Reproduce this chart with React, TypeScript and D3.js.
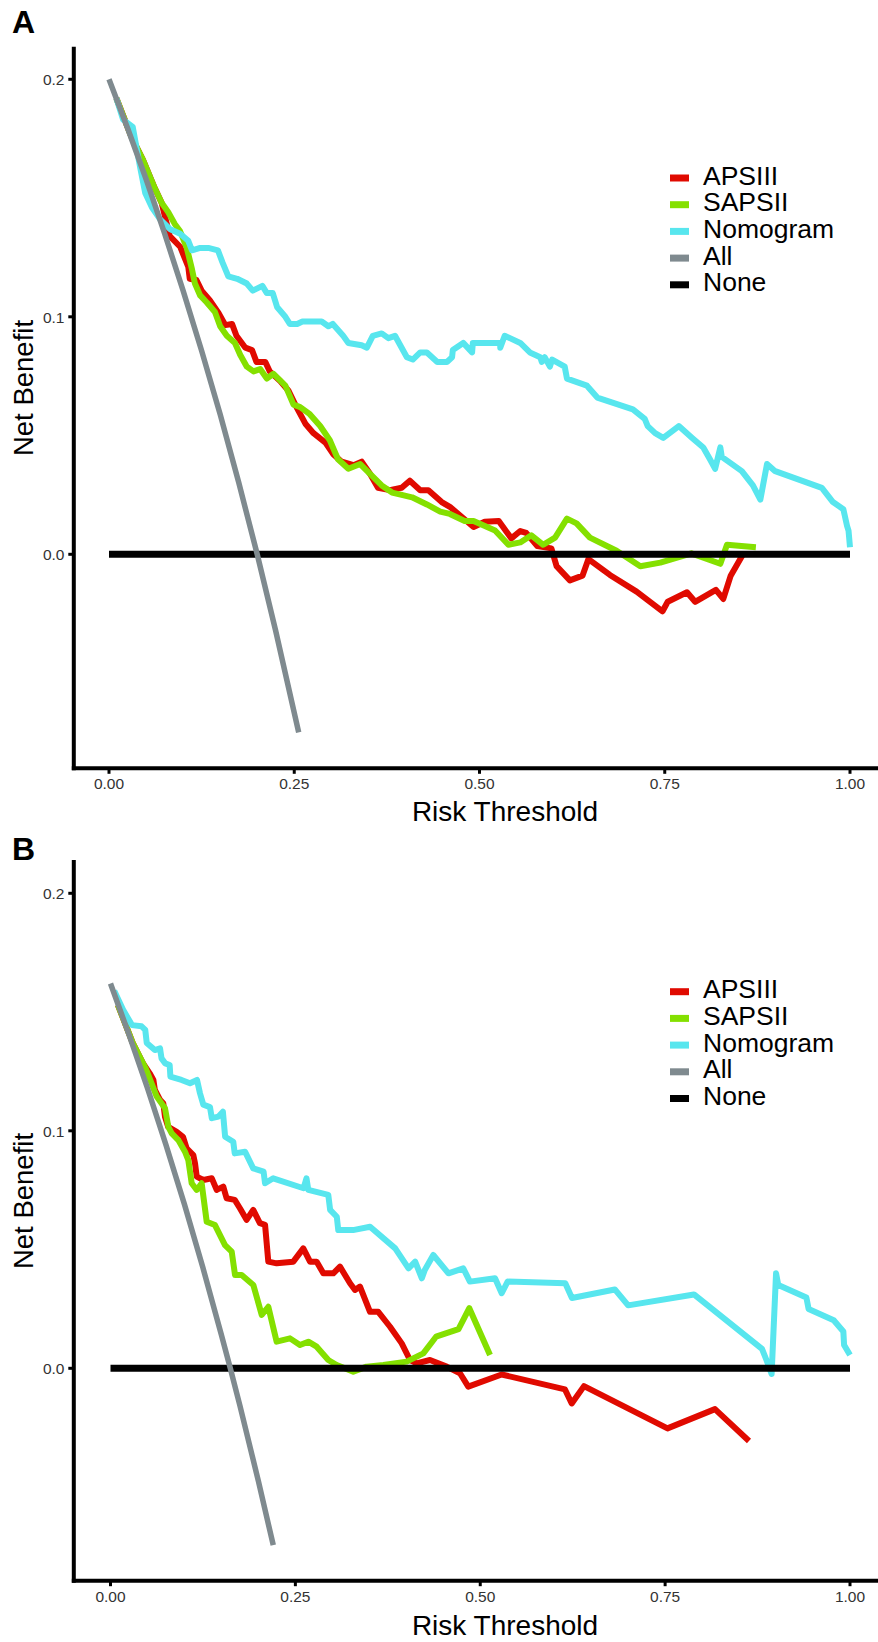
import React from 'react';
import * as d3 from 'd3';

const W = 878;
const H = 1642;
const FONT = '"Liberation Sans", Arial, Helvetica, sans-serif';

const xTicks = [0, 0.25, 0.5, 0.75, 1];
const xTickLabels = ['0.00', '0.25', '0.50', '0.75', '1.00'];
const yTicks = [0, 0.1, 0.2];
const yTickLabels = ['0.0', '0.1', '0.2'];
const seriesNames = ['APSIII', 'SAPSII', 'Nomogram', 'All', 'None'];
const seriesColors = ['#E00A00', '#84E000', '#58E6EE', '#7F8A8F', '#000000'];
const xTitle = 'Risk Threshold';
const yTitle = 'Net Benefit';

// ---------- Panel A ----------
const apsiiiA: [number, number][] = [
  [0.010, 0.192], [0.030, 0.176], [0.046, 0.166], [0.062, 0.154], [0.071, 0.148], [0.082, 0.134],
  [0.096, 0.1295], [0.107, 0.121], [0.109, 0.116], [0.118, 0.1155], [0.125, 0.111], [0.136, 0.107],
  [0.148, 0.1015], [0.157, 0.0965], [0.166, 0.097], [0.172, 0.092], [0.184, 0.087], [0.193, 0.086],
  [0.199, 0.081], [0.211, 0.081], [0.217, 0.077], [0.231, 0.073], [0.242, 0.069], [0.253, 0.062],
  [0.265, 0.055], [0.276, 0.051], [0.292, 0.047], [0.303, 0.042], [0.314, 0.039], [0.330, 0.0375],
  [0.341, 0.039], [0.352, 0.034], [0.363, 0.028], [0.379, 0.027], [0.395, 0.028], [0.406, 0.031],
  [0.420, 0.027], [0.431, 0.027], [0.449, 0.022], [0.460, 0.020], [0.492, 0.0115], [0.507, 0.0137],
  [0.526, 0.014], [0.543, 0.0067], [0.555, 0.0098], [0.563, 0.009], [0.578, 0.0035], [0.597, 0.0025],
  [0.604, -0.005], [0.622, -0.011], [0.639, -0.009], [0.647, -0.002], [0.676, -0.0087], [0.712, -0.0157],
  [0.747, -0.024], [0.754, -0.020], [0.780, -0.016], [0.791, -0.020], [0.819, -0.015], [0.829, -0.0188],
  [0.839, -0.009], [0.856, 0.0002],
];
const sapsiiA: [number, number][] = [
  [0.010, 0.192], [0.030, 0.176], [0.046, 0.166], [0.062, 0.154], [0.071, 0.148], [0.080, 0.144],
  [0.089, 0.139], [0.096, 0.136], [0.105, 0.129], [0.112, 0.120], [0.116, 0.114], [0.123, 0.109],
  [0.132, 0.106], [0.143, 0.102], [0.150, 0.096], [0.159, 0.092], [0.170, 0.089], [0.177, 0.084],
  [0.186, 0.079], [0.195, 0.077], [0.204, 0.078], [0.213, 0.074], [0.222, 0.076], [0.238, 0.071],
  [0.249, 0.063], [0.258, 0.062], [0.271, 0.059], [0.285, 0.054], [0.298, 0.048], [0.309, 0.040],
  [0.323, 0.036], [0.339, 0.038], [0.355, 0.033], [0.368, 0.029], [0.382, 0.026], [0.395, 0.025],
  [0.409, 0.024], [0.429, 0.021], [0.447, 0.018], [0.460, 0.017], [0.480, 0.014], [0.492, 0.014],
  [0.521, 0.010], [0.539, 0.004], [0.555, 0.005], [0.570, 0.008], [0.586, 0.004], [0.602, 0.007],
  [0.618, 0.015], [0.631, 0.013], [0.649, 0.007], [0.685, 0.0015], [0.717, -0.005], [0.744, -0.0035],
  [0.786, 0.0004], [0.825, -0.004], [0.834, 0.004], [0.873, 0.003],
];
const nomogramA: [number, number][] = [
  [0.010, 0.192], [0.019, 0.183], [0.032, 0.180], [0.042, 0.163], [0.049, 0.152], [0.058, 0.146],
  [0.069, 0.141], [0.082, 0.137], [0.096, 0.135], [0.107, 0.132], [0.112, 0.128], [0.123, 0.129],
  [0.134, 0.129], [0.147, 0.128], [0.153, 0.123], [0.161, 0.117], [0.173, 0.116], [0.186, 0.114],
  [0.194, 0.111], [0.207, 0.113], [0.213, 0.110], [0.221, 0.110], [0.227, 0.104], [0.238, 0.100],
  [0.244, 0.097], [0.254, 0.097], [0.261, 0.098], [0.275, 0.098], [0.287, 0.098], [0.296, 0.096],
  [0.302, 0.097], [0.316, 0.092], [0.323, 0.089], [0.341, 0.088], [0.348, 0.087], [0.356, 0.092],
  [0.368, 0.093], [0.377, 0.091], [0.386, 0.092], [0.402, 0.083], [0.410, 0.082], [0.420, 0.085],
  [0.429, 0.085], [0.443, 0.081], [0.456, 0.081], [0.463, 0.083], [0.464, 0.086], [0.478, 0.089],
  [0.490, 0.085], [0.491, 0.089], [0.528, 0.089], [0.528, 0.087], [0.534, 0.092], [0.555, 0.089],
  [0.568, 0.085], [0.582, 0.083], [0.584, 0.081], [0.588, 0.083], [0.595, 0.079], [0.598, 0.082],
  [0.615, 0.079], [0.618, 0.074], [0.645, 0.071], [0.659, 0.066], [0.707, 0.061], [0.723, 0.057],
  [0.727, 0.054], [0.737, 0.051], [0.748, 0.049], [0.769, 0.054], [0.787, 0.049], [0.802, 0.045],
  [0.811, 0.040], [0.818, 0.036], [0.825, 0.045], [0.827, 0.041], [0.854, 0.035], [0.869, 0.029],
  [0.879, 0.023], [0.888, 0.038], [0.899, 0.035], [0.962, 0.028], [0.977, 0.022], [0.991, 0.019],
  [0.996, 0.012], [0.998, 0.010], [1.000, 0.003],
];
const allA: [number, number][] = [
  [0, 0.2], [0.025, 0.1795], [0.05, 0.158], [0.075, 0.1351], [0.1, 0.111], [0.125, 0.0857],
  [0.15, 0.059], [0.175, 0.0303], [0.2, 0.0], [0.225, -0.0323], [0.256, -0.075],
];
const noneA: [number, number][] = [[0, 0], [1, 0]];

// ---------- Panel B ----------
const apsiiiB: [number, number][] = [
  [0.010, 0.153], [0.030, 0.137], [0.044, 0.1284], [0.053, 0.1242], [0.058, 0.1214], [0.060, 0.1172],
  [0.067, 0.113], [0.0714, 0.1116], [0.0737, 0.1059], [0.078, 0.1017], [0.0895, 0.0996], [0.098, 0.0975],
  [0.103, 0.0926], [0.112, 0.0898], [0.1143, 0.0863], [0.1166, 0.0807], [0.1255, 0.0793], [0.137, 0.080],
  [0.1436, 0.0751], [0.1525, 0.0765], [0.157, 0.0716], [0.168, 0.0709], [0.175, 0.0674], [0.184, 0.0625],
  [0.193, 0.0667], [0.202, 0.0611], [0.209, 0.0604], [0.2134, 0.0449], [0.2247, 0.0442], [0.2472, 0.0449],
  [0.2607, 0.0505], [0.2698, 0.0449], [0.2788, 0.0449], [0.2878, 0.040], [0.3013, 0.040], [0.3103, 0.0428],
  [0.3239, 0.0358], [0.3306, 0.033], [0.3374, 0.0344], [0.3509, 0.0238], [0.3621, 0.0238], [0.378, 0.0175],
  [0.3938, 0.0105], [0.405, 0.0035], [0.414, 0.0021], [0.432, 0.0035], [0.4546, 0.0007], [0.4726, -0.0021],
  [0.4838, -0.0077], [0.529, -0.0026], [0.6146, -0.0089], [0.6237, -0.0148], [0.6403, -0.0075],
  [0.7532, -0.0253], [0.8174, -0.0172], [0.8634, -0.0306],
];
const sapsiiB: [number, number][] = [
  [0.010, 0.153], [0.030, 0.137], [0.048, 0.126], [0.0625, 0.1144], [0.0737, 0.1095], [0.0782, 0.1017],
  [0.0828, 0.0989], [0.0917, 0.0961], [0.1007, 0.0912], [0.1052, 0.0877], [0.1098, 0.0779], [0.1166, 0.0751],
  [0.1233, 0.0779], [0.1301, 0.0617], [0.1413, 0.0603], [0.1548, 0.0519], [0.1639, 0.0491], [0.1684, 0.0393],
  [0.1774, 0.0393], [0.1931, 0.0351], [0.2045, 0.0225], [0.2134, 0.0259], [0.2247, 0.0112], [0.2427, 0.0126],
  [0.2562, 0.0098], [0.2675, 0.0112], [0.2788, 0.0091], [0.2945, 0.0035], [0.3059, 0.0014], [0.3283, -0.0014],
  [0.3464, 0.0007], [0.3689, 0.0014], [0.4005, 0.0028], [0.423, 0.0063], [0.4402, 0.0133], [0.4706, 0.0165],
  [0.4852, 0.0253], [0.5132, 0.0056],
];
const nomogramB: [number, number][] = [
  [0.005, 0.159], [0.017, 0.151], [0.029, 0.1445], [0.042, 0.144], [0.047, 0.1425], [0.049, 0.137],
  [0.060, 0.134], [0.067, 0.1347], [0.069, 0.1305], [0.074, 0.1284], [0.080, 0.1277], [0.081, 0.1228],
  [0.096, 0.1214], [0.1075, 0.120], [0.117, 0.1214], [0.121, 0.1158], [0.1255, 0.111], [0.1345, 0.110],
  [0.137, 0.1053], [0.146, 0.106], [0.152, 0.108], [0.155, 0.0975], [0.166, 0.0954], [0.168, 0.0905],
  [0.182, 0.0912], [0.193, 0.0842], [0.207, 0.0828], [0.209, 0.0779], [0.220, 0.080], [0.261, 0.0758],
  [0.265, 0.080], [0.2675, 0.0751], [0.2945, 0.073], [0.297, 0.0667], [0.306, 0.0638], [0.308, 0.0582],
  [0.328, 0.0582], [0.351, 0.0596], [0.385, 0.0505], [0.403, 0.0421], [0.412, 0.0449], [0.421, 0.0379],
  [0.425, 0.0414], [0.4365, 0.0477], [0.457, 0.040], [0.477, 0.0421], [0.486, 0.0365], [0.520, 0.0379],
  [0.529, 0.0316], [0.537, 0.0365], [0.615, 0.0358], [0.624, 0.0296], [0.682, 0.0332], [0.700, 0.0265],
  [0.789, 0.0311], [0.881, 0.0082], [0.887, 0.0035], [0.894, -0.0024], [0.900, 0.040], [0.903, 0.0351],
  [0.941, 0.0298], [0.944, 0.025], [0.978, 0.0202], [0.991, 0.0155], [0.992, 0.0098], [1.0, 0.0056],
];
const allB: [number, number][] = [
  [0, 0.162], [0.025, 0.1405], [0.05, 0.118], [0.075, 0.0941], [0.1, 0.069], [0.125, 0.0423],
  [0.15, 0.014], [0.162, 0.0], [0.175, -0.0157], [0.2, -0.0475], [0.2201, -0.0745],
];
const noneB: [number, number][] = [[0, 0], [1, 0]];

type Pt = [number, number];

interface PanelProps {
  letter: string;
  letterY: number;
  top: number;
  bottom: number;
  yZero: number;
  x0: number;
  x1: number;
  series: Pt[][];
  legendY: number;
  xTitleY: number;
  yTitleY: number;
}

const drawOrder = [0, 1, 2, 4, 3];
const strokeWidths = [6, 6, 6, 5.5, 7];

function Panel(p: PanelProps) {
  const xs = d3.scaleLinear().domain([0, 1]).range([p.x0, p.x1]);
  const ys = d3.scaleLinear().domain([0, 0.2]).range([p.yZero, p.yZero - 475]);
  const line = d3
    .line<Pt>()
    .x((d) => xs(d[0]))
    .y((d) => ys(d[1]));
  const axisX = 73.8;
  return (
    <g>
      <text x={12} y={p.letterY} fontFamily={FONT} fontWeight="bold" fontSize={32} fill="#000">
        {p.letter}
      </text>
      {/* axes */}
      <line x1={axisX} x2={axisX} y1={p.top} y2={p.bottom + 2} stroke="#000" strokeWidth={4} />
      <line x1={axisX - 2} x2={W} y1={p.bottom} y2={p.bottom} stroke="#000" strokeWidth={4} />
      {yTicks.map((t, i) => (
        <g key={'yt' + i}>
          <line x1={axisX - 5.5} x2={axisX} y1={ys(t)} y2={ys(t)} stroke="#000" strokeWidth={3} />
          <text
            x={64.5}
            y={ys(t) + 6}
            textAnchor="end"
            fontFamily={FONT}
            fontSize={15.5}
            fill="#333"
          >
            {yTickLabels[i]}
          </text>
        </g>
      ))}
      {xTicks.map((t, i) => (
        <g key={'xt' + i}>
          <line x1={xs(t)} x2={xs(t)} y1={p.bottom} y2={p.bottom + 5.5} stroke="#000" strokeWidth={3} />
          <text
            x={xs(t)}
            y={p.bottom + 21}
            textAnchor="middle"
            fontFamily={FONT}
            fontSize={15.5}
            fill="#333"
          >
            {xTickLabels[i]}
          </text>
        </g>
      ))}
      <text
        x={505}
        y={p.xTitleY}
        textAnchor="middle"
        fontFamily={FONT}
        fontSize={28}
        fill="#000"
      >
        {xTitle}
      </text>
      <text
        transform={`translate(33,${p.yTitleY}) rotate(-90)`}
        textAnchor="middle"
        fontFamily={FONT}
        fontSize={27.5}
        fill="#000"
      >
        {yTitle}
      </text>
      {/* series */}
      {drawOrder.map((si) => (
        <path
          key={'s' + si}
          d={line(p.series[si]) || ''}
          fill="none"
          stroke={seriesColors[si]}
          strokeWidth={strokeWidths[si]}
          strokeLinejoin="round"
          strokeLinecap="butt"
        />
      ))}
      {/* legend */}
      {seriesNames.map((n, i) => {
        const cy = p.legendY + i * 26.7;
        return (
          <g key={'lg' + i}>
            <line x1={670} x2={689} y1={cy} y2={cy} stroke={seriesColors[i]} strokeWidth={7} />
            <text x={703} y={cy + 6.5} fontFamily={FONT} fontSize={26.5} fill="#000">
              {n}
            </text>
          </g>
        );
      })}
    </g>
  );
}

export default function App() {
  return (
    <svg
      width={W}
      height={H}
      viewBox={`0 0 ${W} ${H}`}
      style={{ position: 'absolute', left: 0, top: 0, display: 'block', background: '#fff' }}
    >
      <rect x={0} y={0} width={W} height={H} fill="#fff" />
      <Panel
        letter="A"
        letterY={33}
        top={46.7}
        bottom={768.3}
        yZero={554.3}
        x0={109}
        x1={850}
        series={[apsiiiA, sapsiiA, nomogramA, allA, noneA]}
        legendY={178}
        xTitleY={821}
        yTitleY={388}
      />
      <Panel
        letter="B"
        letterY={860}
        top={860}
        bottom={1580.7}
        yZero={1368.3}
        x0={110.5}
        x1={850}
        series={[apsiiiB, sapsiiB, nomogramB, allB, noneB]}
        legendY={991.7}
        xTitleY={1635}
        yTitleY={1201}
      />
    </svg>
  );
}
